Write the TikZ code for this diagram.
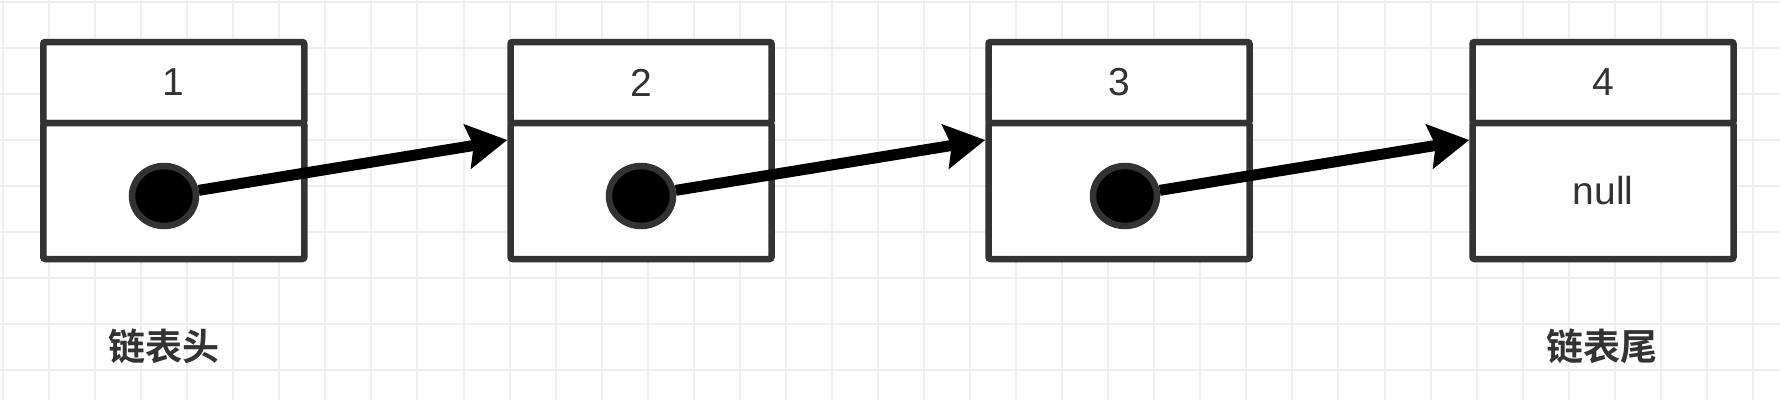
\documentclass[tikz,border=0pt]{standalone}
\usepackage{fontspec}
\setmainfont{Liberation Sans}
\newfontfamily\cjk{Noto Sans CJK SC}[BoldFont={Noto Sans CJK SC Bold}]
\usetikzlibrary{arrows.meta,shapes.geometric,calc}
\definecolor{ink}{HTML}{333333}
\definecolor{gridc}{HTML}{EFEFEF}
\tikzset{
  cellbox/.style={draw=ink, line width=6.5pt, rounded corners=2pt, fill=white,
    minimum width=261pt, inner sep=0pt, text=ink,
    font=\fontsize{39}{39}\selectfont},
  headcell/.style={cellbox, minimum height=81pt},
  ptrcell/.style={cellbox, minimum height=136pt},
  dotmark/.style={ellipse, draw=ink, fill=black, line width=6.5pt,
    minimum width=64pt, minimum height=60pt, inner sep=0pt},
  link/.style={draw=black, line width=11pt,
    -{Stealth[length=40pt, width=44pt, inset=6pt]}},
  endlabel/.style={text=ink, font=\cjk\bfseries\fontsize{37}{37}\selectfont, inner sep=0pt},
  gridline/.style={draw=gridc, line width=2pt}
}
\begin{document}
\begin{tikzpicture}[x=1pt, y=-1pt]
\useasboundingbox (0,0) rectangle (1780,400);
\fill[white] (0,0) rectangle (1780,400);
% grid
\foreach \k in {0,...,38} { \draw[gridline] ({3+46.05*\k},0) -- ({3+46.05*\k},400); }
\foreach \k in {0,...,8} { \draw[gridline] (0,{1.5+46*\k}) -- (1780,{1.5+46*\k}); }
% nodes
\node[headcell] (h1) at (173.75,82.5) {1};
\node[ptrcell]  (p1) at (173.75,191) {};
\node[headcell] (h2) at (641,82.5) {2};
\node[ptrcell]  (p2) at (641,191) {};
\node[headcell] (h3) at (1119,82.5) {3};
\node[ptrcell]  (p3) at (1119,191) {};
\node[headcell] (h4) at (1603,82.5) {4};
\node[ptrcell]  (p4) at (1603,191) {null};
% arrow targets on the left edges
\coordinate (t2) at (p2.west |- 0,140);
\coordinate (t3) at (p3.west |- 0,140);
\coordinate (t4) at (p4.west |- 0,140);
% dots
\node[dotmark] (d1) at (164,196) {};
\node[dotmark] (d2) at (641,196) {};
\node[dotmark] (d3) at (1125,196) {};
% links
\draw[link] (d1) -- (t2);
\draw[link] (d2) -- (t3);
\draw[link] (d3) -- (t4);
% labels
\node[endlabel] (head) at (164,346) {链表头};
\node[endlabel] (tail) at (1602,346) {链表尾};
\end{tikzpicture}
\end{document}
